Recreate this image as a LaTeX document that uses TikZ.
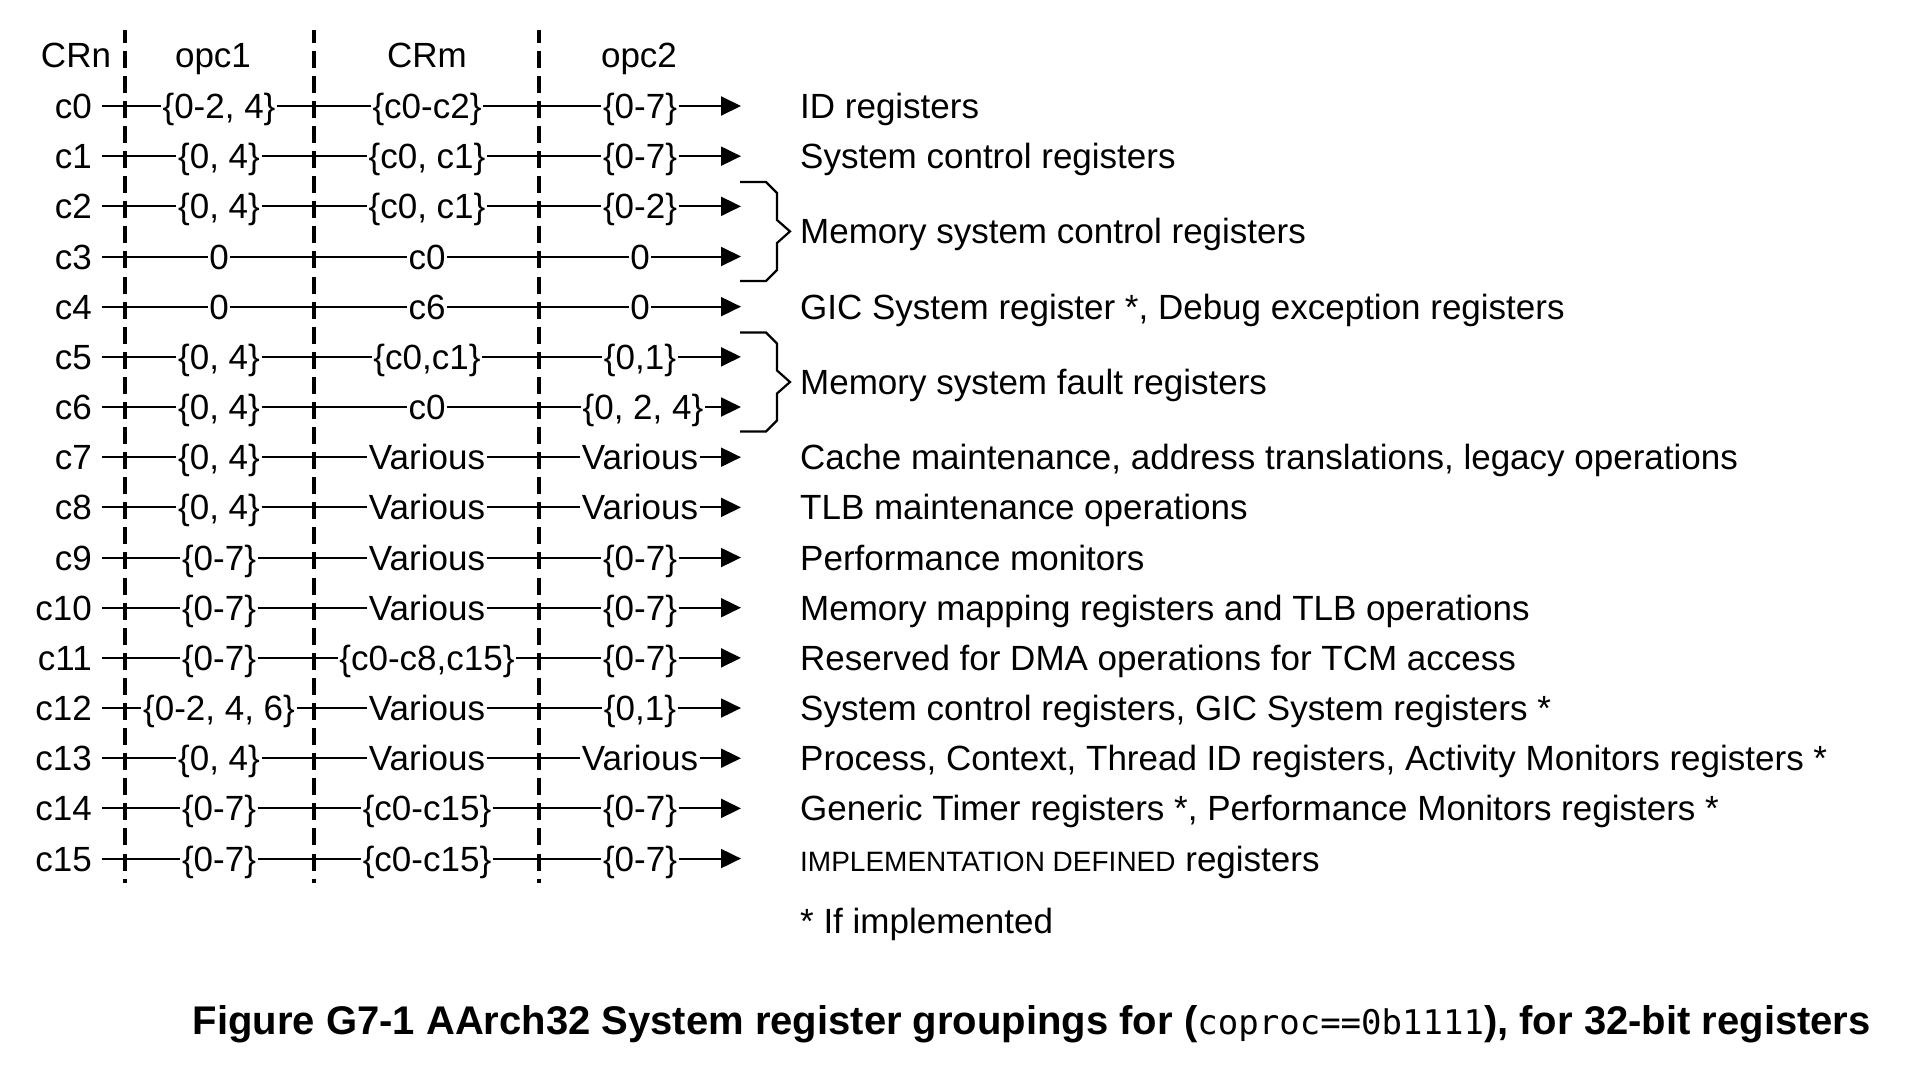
\documentclass[tikz,border=0pt]{standalone}
\usepackage{fontspec}
\setmainfont{Liberation Sans}
\newfontfamily\codefont{DejaVu Sans Mono}
\usetikzlibrary{arrows.meta}

% One register row: #1 CRn index, #2 opc1, #3 CRm, #4 opc2, #5 x of the opc2 label
\newcommand{\regrow}[5]{%
  \pgfmathsetmacro\rowy{106+50.17*#1}%
  \node[crn] (n#1) at (102,\rowy) {c#1};
  \node[val] (a#1) at (219,\rowy) {#2};
  \node[val] (b#1) at (427,\rowy) {#3};
  \node[val] (c#1) at (#5,\rowy) {#4};
  \coordinate (e#1) at (741,\rowy);
  \draw[wire] (n#1.east) -- (a#1.west) (a#1.east) -- (b#1.west) (b#1.east) -- (c#1.west);
  \draw[tip] (c#1.east) -- (e#1);
}

\begin{document}
\begin{tikzpicture}[x=1pt,y=-1pt,
  every node/.style={font=\fontsize{35}{42}\selectfont, text height=25pt, text depth=0pt},
  crn/.style={anchor=east, inner xsep=10pt, inner ysep=0pt},
  val/.style={inner xsep=1.5pt, inner ysep=0pt},
  desc/.style={anchor=west, inner sep=0pt},
  hdr/.style={inner sep=0pt},
  wire/.style={line width=2pt},
  tip/.style={wire, -{Triangle[length=20pt,width=19pt]}},
  divider/.style={line width=3.8pt, dash pattern=on 17pt off 8.085pt, dash phase=4.3pt},
  grp/.style={line width=2.2pt, line join=miter}
]
\useasboundingbox (0,0) rectangle (1928,1066);

% column dividers
\foreach \x in {125,314,539} \draw[divider] (\x,30) -- (\x,883);

% column headings
\node[hdr] (hcrn) at (76,55) {CRn};
\node[hdr] (hopc1) at (213,55) {opc1};
\node[hdr] (hcrm) at (427,55) {CRm};
\node[hdr] (hopc2) at (639,55) {opc2};

% encoding rows
\regrow{0}{\{0-2, 4\}}{\{c0-c2\}}{\{0-7\}}{640}
\regrow{1}{\{0, 4\}}{\{c0, c1\}}{\{0-7\}}{640}
\regrow{2}{\{0, 4\}}{\{c0, c1\}}{\{0-2\}}{640}
\regrow{3}{0}{c0}{0}{640}
\regrow{4}{0}{c6}{0}{640}
\regrow{5}{\{0, 4\}}{\{c0,c1\}}{\{0,1\}}{640}
\regrow{6}{\{0, 4\}}{c0}{\{0, 2, 4\}}{643}
\regrow{7}{\{0, 4\}}{Various}{Various}{640}
\regrow{8}{\{0, 4\}}{Various}{Various}{640}
\regrow{9}{\{0-7\}}{Various}{\{0-7\}}{640}
\regrow{10}{\{0-7\}}{Various}{\{0-7\}}{640}
\regrow{11}{\{0-7\}}{\{c0-c8,c15\}}{\{0-7\}}{640}
\regrow{12}{\{0-2, 4, 6\}}{Various}{\{0,1\}}{640}
\regrow{13}{\{0, 4\}}{Various}{Various}{640}
\regrow{14}{\{0-7\}}{\{c0-c15\}}{\{0-7\}}{640}
\regrow{15}{\{0-7\}}{\{c0-c15\}}{\{0-7\}}{640}

% group braces
\draw[grp] (740,182) -- (766,182) -- (777,193) -- (777,220) -- (790,231.4) -- (777,243) -- (777,270) -- (766,281) -- (740,281);
\draw[grp] (740,332.5) -- (766,332.5) -- (777,343.5) -- (777,370.5) -- (790,382) -- (777,393.5) -- (777,420.5) -- (766,431.5) -- (740,431.5);

% register group descriptions
\node[desc] (d0) at (800,106) {ID registers};
\node[desc] (d1) at (800,156.2) {System control registers};
\node[desc] (d23) at (800,231.4) {Memory system control registers};
\node[desc] (d4) at (800,306.7) {GIC System register *, Debug exception registers};
\node[desc] (d56) at (800,382) {Memory system fault registers};
\node[desc] (d7) at (800,457.2) {Cache maintenance, address translations, legacy operations};
\node[desc] (d8) at (800,507.4) {TLB maintenance operations};
\node[desc] (d9) at (800,557.5) {Performance monitors};
\node[desc] (d10) at (800,607.7) {Memory mapping registers and TLB operations};
\node[desc] (d11) at (800,657.9) {Reserved for DMA operations for TCM access};
\node[desc] (d12) at (800,708.0) {System control registers, GIC System registers *};
\node[desc] (d13) at (800,758.2) {Process, Context, Thread ID registers, Activity Monitors registers *};
\node[desc] (d14) at (800,808.4) {Generic Timer registers *, Performance Monitors registers *};
\node[desc] (d15) at (800,858.6) {{\fontsize{28}{34}\selectfont IMPLEMENTATION DEFINED} registers};
\node[desc] (note) at (800,921) {* If implemented};

% caption
\node[anchor=base east, inner sep=0pt, font=\fontsize{40}{48}\selectfont\bfseries] (cap) at (1871,1034)
  {Figure G7-1 AArch32 System register groupings for ({\codefont\mdseries\fontsize{34}{40}\selectfont coproc==0b1111}), for 32-bit registers};
\end{tikzpicture}
\end{document}
